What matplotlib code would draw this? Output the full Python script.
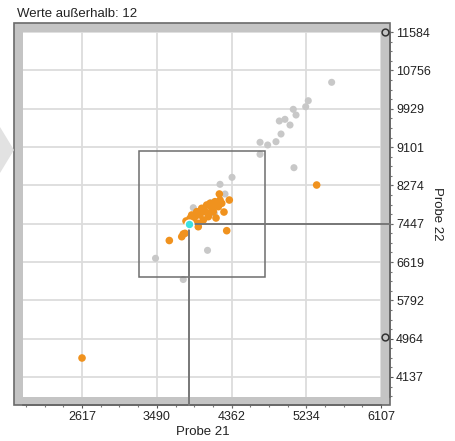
import numpy as np
import matplotlib
matplotlib.use("Agg")
import matplotlib.pyplot as plt
from matplotlib.patches import Rectangle, Polygon
from matplotlib.ticker import AutoMinorLocator
import matplotlib.transforms as mtransforms

plt.rcParams['font.family'] = ['Liberation Sans', 'DejaVu Sans']

# data
grey_x = [5531, 5258, 5228, 5083, 5115, 4986, 4920, 5045, 4940, 4881, 4784, 4695,
          4695, 5091, 4368, 4228, 4286, 3916, 4161, 4082, 3475, 3799, 4000, 4120]
grey_y = [10498, 10101, 9971, 9915, 9792, 9699, 9663, 9576, 9382, 9216, 9145, 9203,
          8944, 8655, 8447, 8296, 8087, 7791, 7670, 6871, 6699, 6241, 7700, 7900]

orange_x = [2617, 5356, 4220, 4336, 4306, 3636, 3781, 3799, 3819, 4169, 4111, 4072,
            4014, 3956, 3897, 3878, 3916, 3974, 4033, 4091, 4150, 4208, 4248, 4228,
            4131, 3994, 4053, 3936, 3974, 3831, 4274, 4181, 4100, 4040, 3960, 4190]
orange_y = [4547, 8281, 8087, 7957, 7295, 7083, 7165, 7223, 7238, 7921, 7886, 7849,
            7778, 7705, 7634, 7562, 7526, 7454, 7526, 7597, 7705, 7813, 7886, 7957,
            7778, 7634, 7705, 7597, 7381, 7504, 7698, 7569, 7660, 7750, 7680, 7860]

sel_x, sel_y = 3870, 7447
box_x = [3282, 4753]
box_y = [6289, 9022]

x_ticks = [2617, 3490, 4362, 5234, 6107]
y_ticks = [4137, 4964, 5792, 6619, 7447, 8274, 9101, 9929, 10756, 11584]
x_lim = [1928, 6107]
y_lim = [3705, 11584]
handle_y = [11584, 5010]
outside_count = 12

W, H = 455, 441
fig = plt.figure(figsize=(W / 100, H / 100), dpi=100)

def fx(px):
    return px / W

def fy(py):
    return 1 - py / H

# grey frame around the plot area
fig.patches.append(Rectangle((fx(14), fy(405)), fx(376), 382 / H, transform=fig.transFigure,
                             facecolor='#c4c4c4', edgecolor='#6a6a6a', lw=1.2, zorder=0))
# collapse arrow on the left
fig.patches.append(Polygon([(fx(0), fy(127)), (fx(14), fy(150)), (fx(0), fy(173))], closed=True,
                           transform=fig.transFigure, facecolor='#e2e2e2', edgecolor='none', zorder=0))

ax = fig.add_axes([fx(23), fy(397), fx(381 - 23), (397 - 32) / H])
ax.set_zorder(2)
ax.set_facecolor('white')
ax.set_xlim(x_lim)
ax.set_ylim(y_lim)

ax.set_xticks(x_ticks)
ax.set_yticks(y_ticks)
ax.xaxis.set_minor_locator(AutoMinorLocator(4))
ax.yaxis.set_minor_locator(AutoMinorLocator(4))
ax.grid(which='major', color='#dcdcdc', lw=1.3, zorder=0)

ax.spines['left'].set_visible(False)
ax.spines['top'].set_visible(False)
ax.spines['right'].set_position(('outward', 6.4))
ax.spines['bottom'].set_position(('outward', 5.8))
for s in ['right', 'bottom']:
    ax.spines[s].set_color('#666666')
    ax.spines[s].set_linewidth(1.2)
ax.yaxis.tick_right()
ax.tick_params(which='major', length=2.5, width=0.8, color='#555555', labelsize=9,
               labelcolor='#222222', pad=2)
ax.tick_params(which='minor', length=1.6, width=0.8, color='#777777')
ax.tick_params(axis='y', which='both', left=False)
ax.tick_params(axis='x', which='both', top=False)

ax.scatter(grey_x, grey_y, s=26, color='#c8c8c8', edgecolors='none', zorder=3)
ax.scatter(orange_x, orange_y, s=30, color='#f0921e', edgecolors='none', zorder=4)

# selection box
ax.add_patch(Rectangle((box_x[0], box_y[0]), box_x[1] - box_x[0], box_y[1] - box_y[0],
                       fill=False, edgecolor='#6e6e6e', lw=1.1, zorder=5))

# crosshair from the selected point to the axes
yr = y_lim[1] - y_lim[0]
xr = x_lim[1] - x_lim[0]
ax.plot([sel_x, sel_x], [sel_y, y_lim[0] - 0.022 * yr], color='#777777', lw=1.4,
        clip_on=False, zorder=5)
ax.plot([sel_x, x_lim[1] + 0.025 * xr], [sel_y, sel_y], color='#777777', lw=1.4,
        clip_on=False, zorder=5)
ax.scatter([sel_x], [sel_y], s=40, color='#3de0e0', edgecolors='white', linewidths=1,
           zorder=6)

# range handles on the right frame
trans = mtransforms.blended_transform_factory(ax.transAxes, ax.transData)
ax.scatter([1.012] * len(handle_y), handle_y, s=24, facecolors='#c4c4c4', edgecolors='#333333',
           linewidths=1.1, transform=trans, clip_on=False, zorder=7)

fig.text(fx(17), fy(14), 'Werte außerhalb: %d' % outside_count, fontsize=9.5,
         color='#222222', ha='left', va='center')
fig.text(fx(203), fy(432), 'Probe 21', fontsize=9.5, color='#222222', ha='center', va='center')
fig.text(fx(437), fy(214), 'Probe 22', fontsize=9.5, color='#222222', ha='center',
         va='center', rotation=-90)

fig.savefig('out.png', dpi=100)
